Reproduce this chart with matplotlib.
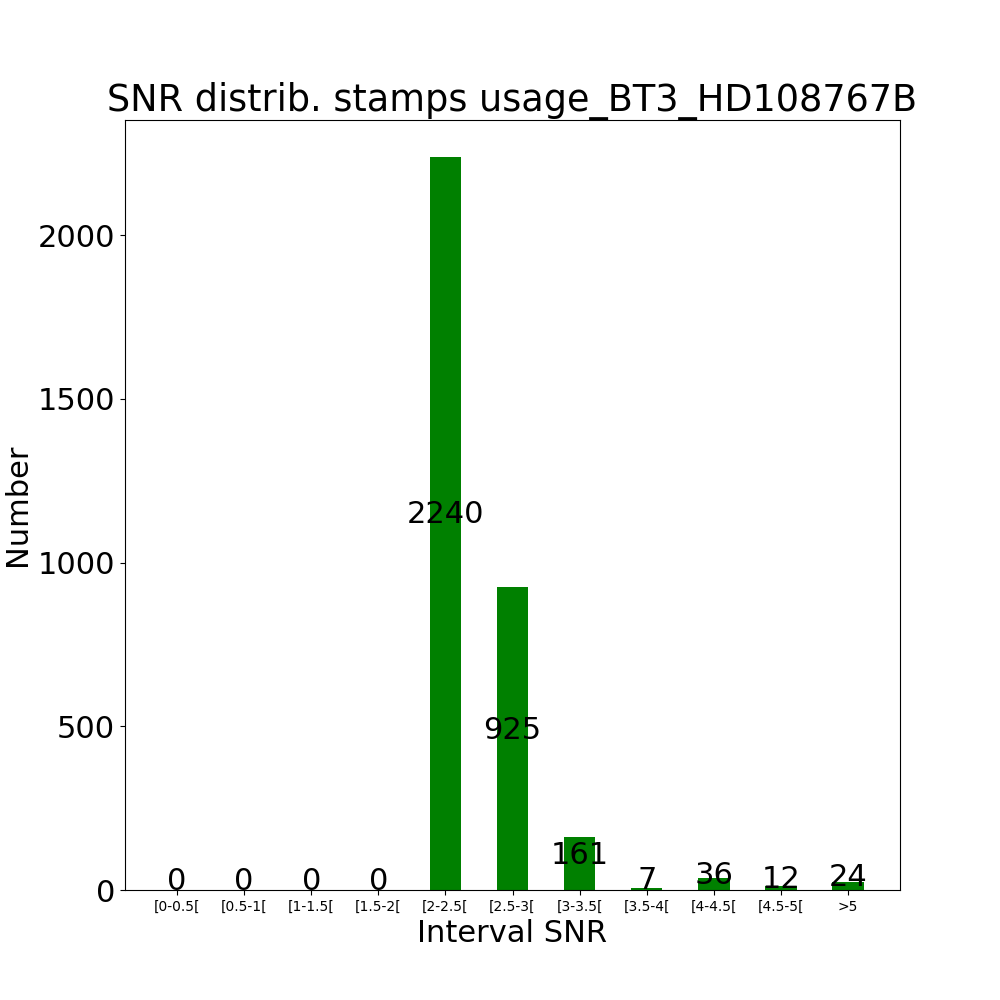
import matplotlib
matplotlib.use("Agg")
import matplotlib.pyplot as plt

## intervals and counts
intervals = ["[0-0.5[", "[0.5-1[", "[1-1.5[", "[1.5-2[", "[2-2.5[", "[2.5-3[",
             "[3-3.5[", "[3.5-4[", "[4-4.5[", "[4.5-5[", ">5"]
counts = [0, 0, 0, 0, 2240, 925, 161, 7, 36, 12, 24]

fig, ax = plt.subplots(figsize=(10, 10), dpi=100)
x = range(len(intervals))
ax.bar(x, counts, width=0.47, color="green")
ax.set_xlim(-0.775, len(intervals) - 1 + 0.775)

## value labels in the middle of each bar
for i, c in zip(x, counts):
    ax.text(i, c / 2, str(c), ha="center", fontsize=22)

ax.set_xticks(list(x))
ax.set_xticklabels(intervals, fontsize=10)
ax.tick_params(axis="y", labelsize=22)
ax.set_xlabel("Interval SNR", fontsize=22)
ax.set_ylabel("Number", fontsize=22)
ax.set_title("SNR distrib. stamps usage_BT3_HD108767B", fontsize=26.4)

plt.savefig("out.png")
